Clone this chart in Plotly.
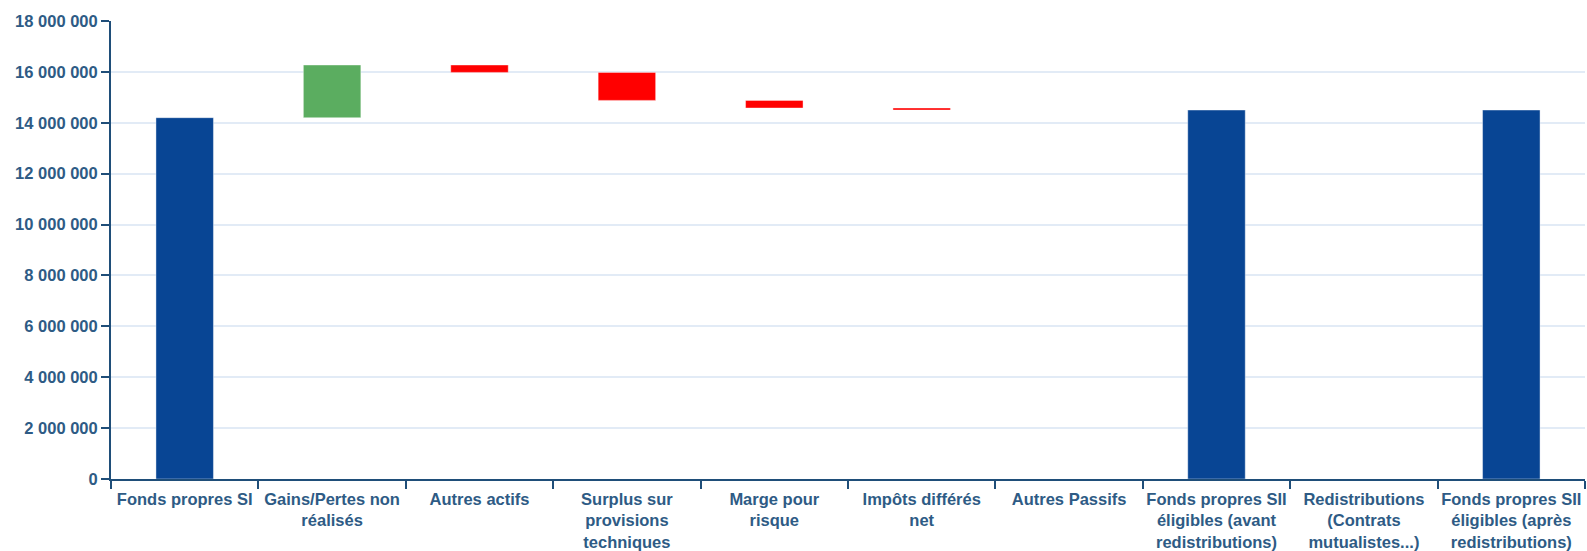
import plotly.graph_objects as go

categories = [
    "Fonds propres SI",
    "Gains/Pertes non<br>réalisés",
    "Autres actifs",
    "Surplus sur<br>provisions<br>techniques",
    "Marge pour<br>risque",
    "Impôts différés<br>net",
    "Autres Passifs",
    "Fonds propres SII<br>éligibles (avant<br>redistributions)",
    "Redistributions<br>(Contrats<br>mutualistes...)",
    "Fonds propres SII<br>éligibles (après<br>redistributions)",
]
measures = ["absolute", "relative", "relative", "relative", "relative", "relative",
            "relative", "total", "relative", "total"]
values = [14200000, 2070000, -290000, -1100000, -300000, -80000, 0, 0, 0, 0]
y_ticks = [0, 2000000, 4000000, 6000000, 8000000, 10000000, 12000000, 14000000, 16000000, 18000000]

text_color = "#2E5B85"
axis_color = "#1F4E79"
grid_color = "#E2EBF6"

fig = go.Figure(go.Waterfall(
    x=categories,
    y=values,
    measure=measures,
    width=0.39,
    connector=dict(visible=False),
    increasing=dict(marker=dict(color="#5BAD60", line=dict(color="rgba(255,255,255,0.4)", width=1))),
    decreasing=dict(marker=dict(color="#FF0000", line=dict(color="rgba(255,255,255,0.4)", width=1))),
    totals=dict(marker=dict(color="#084594", line=dict(color="rgba(255,255,255,0.4)", width=1))),
    hoverinfo="x+y",
))

fig.update_layout(
    width=1587, height=551,
    margin=dict(l=111, r=2, t=21, b=72, autoexpand=False),
    plot_bgcolor="white", paper_bgcolor="white",
    separators=", ",
    showlegend=False,
    font=dict(family="Liberation Sans, Arial, sans-serif", size=16.5, color=text_color, weight="bold"),
    xaxis=dict(
        type="category",
        tickson="boundaries",
        ticks="outside", ticklen=8, tickwidth=2, tickcolor=axis_color,
        showline=True, linecolor=axis_color, linewidth=2,
        showgrid=False,
        tickangle=0,
        ticklabelstandoff=4,
        tickfont=dict(size=16.5, color=text_color, weight="bold"),
        automargin=False,
    ),
    yaxis=dict(
        range=[0, 18000000],
        tickvals=y_ticks,
        tickformat=",d",
        ticks="outside", ticklen=8, tickwidth=2, tickcolor=axis_color,
        showline=True, linecolor=axis_color, linewidth=2,
        showgrid=True, gridcolor=grid_color, gridwidth=2,
        zeroline=False,
        tickfont=dict(size=16.5, color=text_color, weight="bold"),
        automargin=False,
    ),
)

fig.write_html("out.html")
